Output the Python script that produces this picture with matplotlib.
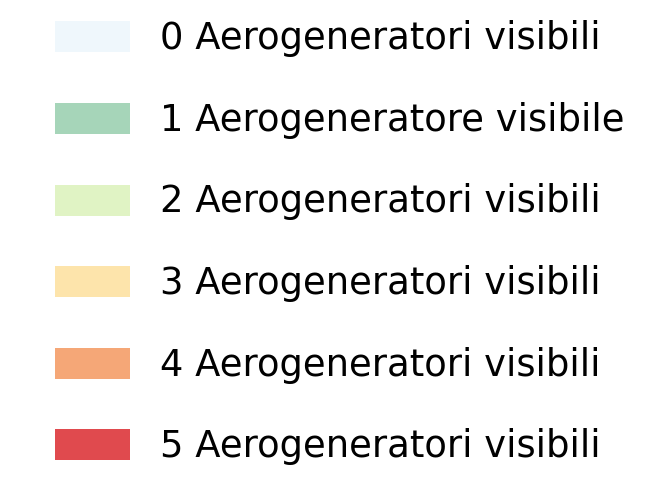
import matplotlib.pyplot as plt

labels = ["0 Aerogeneratori visibili", "1 Aerogeneratore visibile",
          "2 Aerogeneratori visibili", "3 Aerogeneratori visibili",
          "4 Aerogeneratori visibili", "5 Aerogeneratori visibili"]
colors = ["#eff7fc", "#a6d5b9", "#e0f3c4", "#fde4ab", "#f5a777", "#e04a4e"]

W, H = 667, 495
fig = plt.figure(figsize=(W / 100, H / 100), dpi=100)
ax = fig.add_axes([0, 0, 1, 1])
ax.set_axis_off()

# one row every ~81.6 px, first row centred at 37 px from the top
step = 81.6
ax.set_xlim(0, W)
ax.set_ylim((H - 37) / step, -37 / step)

rows = range(len(labels))
ax.barh(list(rows), 75, left=55, height=31 / step, color=colors)
for i, lab in zip(rows, labels):
    ax.text(160, i + 0.02, lab, fontsize=26.6, va="center", ha="left", color="black")

fig.savefig("out.png", dpi=100)
